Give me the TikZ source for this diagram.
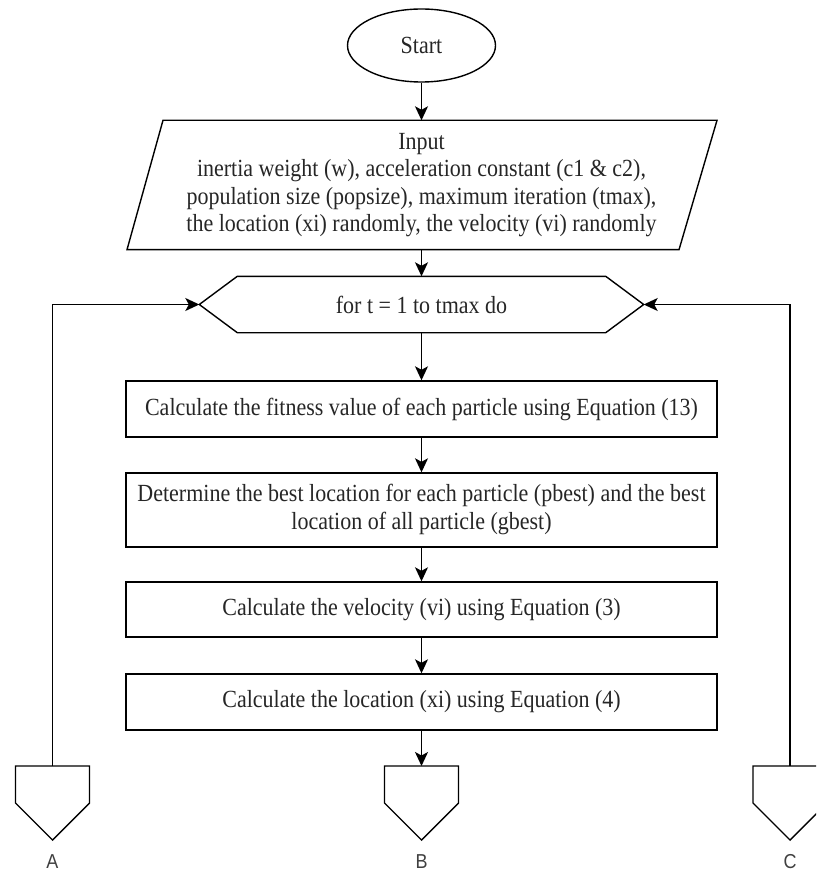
\documentclass[tikz,border=0pt]{standalone}
\usepackage{fontspec}
\setmainfont{Liberation Serif}
\newfontfamily\labelfont{Liberation Sans}
\usetikzlibrary{shapes.geometric,arrows.meta,calc}

% slightly tall lettering, as in the flowchart
\newcommand{\tallbox}[1]{\scalebox{1}[1.12]{#1}}

\begin{document}
\begin{tikzpicture}[x=1pt,y=-1pt,
  line width=1.4pt,
  flow/.style={-{Stealth[length=14pt,width=13pt,inset=3.5pt]}},
  txt/.style={font=\fontsize{22}{24.5}\selectfont, text=black!85, align=center, inner sep=0pt},
  proc/.style={txt, draw, rectangle, minimum width=591pt},
  hold/.style={txt, minimum width=#1},
  conn/.style={font=\labelfont\fontsize{18}{20}\selectfont, text=black!75, inner sep=0pt},
]
\useasboundingbox (0,0) rectangle (816,874);
\clip (0,0) rectangle (816,874);

% terminal
\node[txt, draw, ellipse, minimum width=148pt, minimum height=73pt] (start) at (421.5,45.5) {\tallbox{Start}};

% input parallelogram
\node[hold=552pt, minimum height=128pt] (input) at (421.5,185)
  {\tallbox{\begin{tabular}{@{}c@{}}Input\\inertia weight (w), acceleration constant (c1 \& c2),\\population size (popsize), maximum iteration (tmax),\\the location (xi) randomly, the velocity (vi) randomly\end{tabular}}};
\draw ([xshift=-258.5pt]input.north) -- ([xshift=295.5pt]input.north)
   -- ([xshift=257.5pt]input.south) -- ([xshift=-294.5pt]input.south) -- cycle;

% loop hexagon
\node[hold=443pt, minimum height=55pt] (loop) at (421.5,304.5) {\tallbox{for t = 1 to tmax do}};
\draw (loop.west) -- ([xshift=38pt]loop.north west) -- ([xshift=-38pt]loop.north east)
   -- (loop.east) -- ([xshift=-38pt]loop.south east) -- ([xshift=38pt]loop.south west) -- cycle;

% process steps
\node[proc, minimum height=56pt] (fit) at (421.5,409)
  {\tallbox{Calculate the fitness value of each particle using Equation (13)}};
\node[proc, minimum height=74pt] (best) at (421.5,510)
  {\tallbox{\begin{tabular}{@{}c@{}}Determine the best location for each particle (pbest) and the best\\location of all particle (gbest)\end{tabular}}};
\node[proc, minimum height=55pt] (vel) at (421.5,609.5)
  {\tallbox{Calculate the velocity (vi) using Equation (3)}};
\node[proc, minimum height=56pt] (loc) at (421.5,702)
  {\tallbox{Calculate the location (xi) using Equation (4)}};

% off-page connectors
\coordinate (offA) at (52.5,766);
\coordinate (offB) at (421.5,766);
\coordinate (offC) at (790,766);
\foreach \c in {offA,offB,offC}{
  \draw (\c) ++(-37,0) -- ++(0,37) -- ++(37,37) -- ++(37,-37) -- ++(0,-37) -- cycle;
}
\node[conn] (labA) at (52.5,862) {\tallbox{A}};
\node[conn] (labB) at (421.5,862) {\tallbox{B}};
\node[conn] (labC) at (790,862) {\tallbox{C}};

% connectors
\draw[flow] (start.south) -- (input.north);
\draw[flow] (input.south) -- (loop.north);
\draw[flow] (loop.south) -- (fit.north);
\draw[flow] (fit.south) -- (best.north);
\draw[flow] (best.south) -- (vel.north);
\draw[flow] (vel.south) -- (loc.north);
\draw[flow] (loc.south) -- (offB);
\draw[flow] (offA) |- (loop.west);
\draw[flow] (offC) |- (loop.east);
\end{tikzpicture}
\end{document}
